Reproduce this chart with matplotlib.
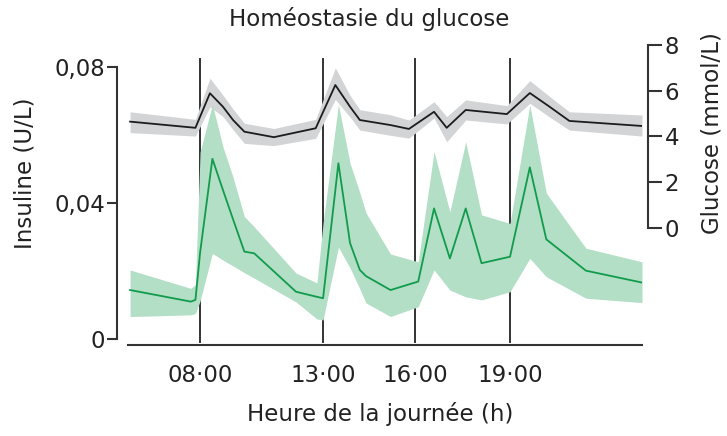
import numpy as np
import matplotlib
matplotlib.use('Agg')
import matplotlib.pyplot as plt

plt.rcParams['font.family'] = ['DejaVu Sans']

# ---- data (hours of the day) ----
gluc_h = [5.0, 7.8, 8.4, 8.93, 9.34, 9.8, 11.0, 12.7, 13.4, 13.88, 14.2, 15.2, 15.8, 16.6, 17.0,
          17.6, 18.9, 19.6, 20.2, 20.8, 23.0]
gluc_mean = [4.65, 4.38, 5.89, 5.30, 4.72, 4.21, 3.97, 4.36, 6.25, 5.30, 4.72, 4.50, 4.33, 5.08, 4.38,
             5.16, 4.98, 5.90, 5.30, 4.68, 4.46]
gluc_hi = [5.08, 4.75, 6.55, 5.81, 5.20, 4.58, 4.35, 4.75, 7.00, 5.80, 5.17, 4.95, 4.72, 5.52, 4.87,
           5.60, 5.35, 6.44, 5.75, 5.08, 4.94]
gluc_lo = [4.17, 4.02, 5.30, 4.87, 4.30, 3.70, 3.60, 3.92, 5.62, 4.85, 4.28, 4.05, 3.93, 4.81, 3.77,
           4.72, 4.55, 5.45, 4.85, 4.28, 4.02]

ins_h = [5.0, 7.6, 7.8, 8.0, 8.5, 8.93, 9.34, 9.8, 10.2, 11.9, 12.75, 13.0, 13.5, 13.88, 14.2,
         14.4, 15.2, 16.1, 16.6, 17.1, 17.6, 18.1, 19.0, 19.6, 20.1, 21.3, 23.0]
ins_mean = [0.0144, 0.0110, 0.0115, 0.0254, 0.0530, 0.0438, 0.0352, 0.0257, 0.0252, 0.0139, 0.0124,
            0.0120, 0.0517, 0.0282, 0.0203, 0.0185, 0.0144, 0.0169, 0.0384, 0.0237, 0.0384, 0.0223,
            0.0242, 0.0505, 0.0293, 0.0201, 0.0166]
ins_hi = [0.0203, 0.0149, 0.0160, 0.0550, 0.0690, 0.0565, 0.0476, 0.0360, 0.0330, 0.0194, 0.0165,
          0.0340, 0.0690, 0.0517, 0.0430, 0.0371, 0.0250, 0.0227, 0.0551, 0.0374, 0.0580, 0.0365,
          0.0340, 0.0688, 0.0429, 0.0267, 0.0227]
ins_lo = [0.0066, 0.0071, 0.0075, 0.0112, 0.0252, 0.0232, 0.0215, 0.0195, 0.0179, 0.0109, 0.0059,
          0.0056, 0.0270, 0.0209, 0.0147, 0.0106, 0.0066, 0.0095, 0.0203, 0.0144, 0.0124, 0.0115,
          0.0139, 0.0237, 0.0183, 0.0120, 0.0107]

meal_hours = [8, 13, 16, 19]
meal_labels = ['08·00', '13·00', '16·00', '19·00']
ins_ticks = [0, 0.04, 0.08]
ins_ticklabels = ['0', '0,04', '0,08']
gluc_ticks = [0, 2, 4, 6, 8]

# ---- non-uniform time axis, as in the original figure ----
_H = np.array([0.0, 8.0, 13.0, 16.0, 19.0, 24.0])
_P = np.array([13.3, 200.0, 323.0, 415.0, 510.0, 675.0])
def fwd(h):
    return np.interp(h, _H, _P)
def inv(p):
    return np.interp(p, _P, _H)

fig = plt.figure(figsize=(7.27, 4.36), dpi=100)
ax = fig.add_axes([128/727, 91/436, 514/727, 305/436])
ax2 = ax.twinx()
ax.set_zorder(ax2.get_zorder() + 1)
ax.patch.set_visible(False)

for a in (ax, ax2):
    a.set_xscale('function', functions=(fwd, inv))
    a.set_xlim(4.91, 23.0)

# insulin scale: 0 at px 339, 0.08 at px 67 (axes 40..345)
ax.set_ylim(-6/3400, 299/3400)
# glucose scale: 0 at px 228, 8 at px 45
ax2.set_ylim(-117/22.875, 188/22.875)

spine_col = '#333333'
txt_col = '#222222'
# vertical meal lines (lowest layer)
for h in meal_hours:
    ax2.axvline(h, ymin=0.01, ymax=0.938, color=spine_col, lw=1.4, zorder=0.5)

# glucose
ax2.fill_between(gluc_h, gluc_lo, gluc_hi, color='#d3d4d6', lw=0, zorder=1)
ax2.plot(gluc_h, gluc_mean, color='#1c1c1c', lw=1.3, zorder=2)

# insulin
ax.fill_between(ins_h, ins_lo, ins_hi, color='#b2dfc5', lw=0, zorder=1)
ax.plot(ins_h, ins_mean, color='#119b4c', lw=1.3, zorder=2)

# spines
for s in ('top', 'right'):
    ax.spines[s].set_visible(False)
for s in ('top', 'left', 'bottom'):
    ax2.spines[s].set_visible(False)
ax.spines['left'].set_position(('outward', 7.9))
ax.spines['left'].set_bounds(0, 0.08)
ax2.spines['right'].set_position(('outward', 4.3))
ax2.spines['right'].set_bounds(0, 8)
for sp in (ax.spines['left'], ax.spines['bottom'], ax2.spines['right']):
    sp.set_color(spine_col)
    sp.set_linewidth(1.5)

fs = 16.5
ax.set_yticks(ins_ticks)
ax.set_yticklabels(ins_ticklabels)
ax.tick_params(axis='y', direction='out', length=7.5, width=1.5, color=spine_col,
               labelsize=fs, pad=1, labelcolor=txt_col)
ax2.set_yticks(gluc_ticks)
ax2.tick_params(axis='y', direction='out', length=10, width=1.5, color=spine_col,
                labelsize=fs, pad=2, labelcolor=txt_col)
ax.set_xticks(meal_hours)
ax.set_xticklabels(meal_labels)
ax.tick_params(axis='x', length=0, labelsize=fs, pad=14, labelcolor=txt_col)
ax2.tick_params(axis='x', length=0, labelbottom=False)
ax.minorticks_off()
ax2.minorticks_off()

fig.text(25/727, 1 - 173/436, 'Insuline (U/L)', rotation=90, fontsize=fs,
         ha='center', va='center', color=txt_col)
fig.text(712/727, 1 - 133.5/436, 'Glucose (mmol/L)', rotation=90, fontsize=fs,
         ha='center', va='center', color=txt_col)
fig.text(380/727, 1 - 414/436, 'Heure de la journée (h)', fontsize=fs,
         ha='center', va='center', color=txt_col)
fig.text(369/727, 1 - 19/436, 'Homéostasie du glucose', fontsize=fs,
         ha='center', va='center', color=txt_col)

fig.savefig('out.png', dpi=100)
